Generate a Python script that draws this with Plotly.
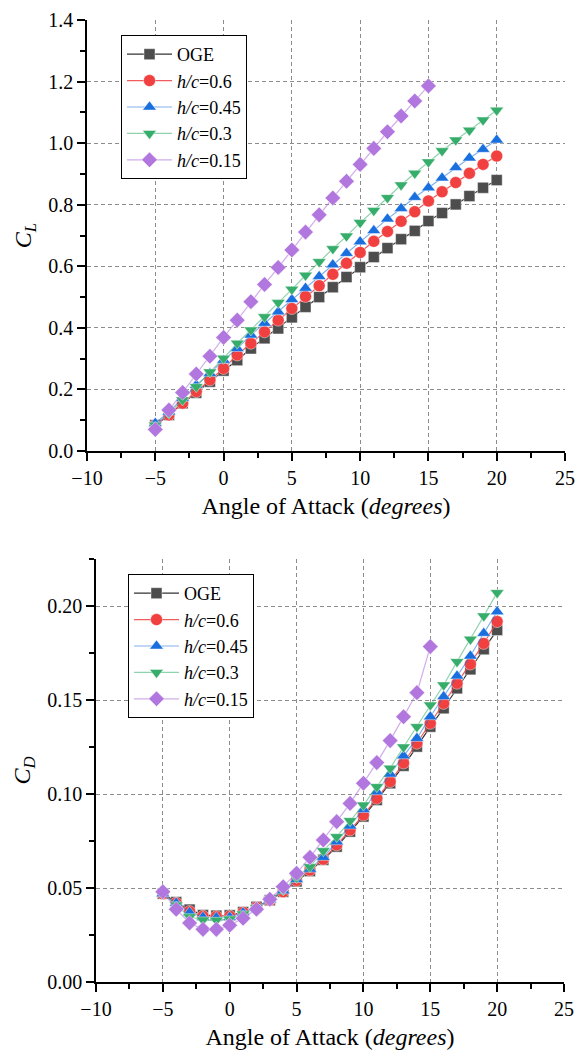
import plotly.graph_objects as go

# ---------------- data ----------------
aoa = list(range(-5, 21))
aoa_015 = list(range(-5, 16))

series_names = ["OGE", "<i>h/c</i>=0.6", "<i>h/c</i>=0.45", "<i>h/c</i>=0.3", "<i>h/c</i>=0.15"]

cl_oge = [0.084, 0.117, 0.155, 0.189, 0.225, 0.261, 0.295, 0.333, 0.366, 0.398, 0.434, 0.468, 0.500,
          0.532, 0.565, 0.597, 0.630, 0.659, 0.688, 0.715, 0.747, 0.773, 0.801, 0.828, 0.855, 0.880]
cl_h06 = [0.084, 0.117, 0.155, 0.193, 0.231, 0.268, 0.312, 0.350, 0.387, 0.425, 0.463, 0.502, 0.537,
          0.574, 0.610, 0.645, 0.681, 0.713, 0.746, 0.777, 0.812, 0.842, 0.872, 0.902, 0.931, 0.958]
cl_h045 = [0.090, 0.127, 0.171, 0.214, 0.252, 0.295, 0.333, 0.377, 0.415, 0.452, 0.492, 0.529, 0.567,
           0.605, 0.642, 0.680, 0.716, 0.754, 0.788, 0.824, 0.855, 0.887, 0.921, 0.952, 0.980, 1.010]
cl_h03 = [0.084, 0.122, 0.166, 0.209, 0.257, 0.301, 0.350, 0.393, 0.436, 0.482, 0.525, 0.571, 0.615,
          0.657, 0.698, 0.742, 0.781, 0.823, 0.864, 0.902, 0.939, 0.975, 1.010, 1.042, 1.075, 1.107]
cl_h015 = [0.070, 0.133, 0.190, 0.250, 0.308, 0.369, 0.425, 0.485, 0.541, 0.596, 0.653, 0.711, 0.767,
           0.822, 0.876, 0.931, 0.983, 1.037, 1.088, 1.137, 1.186]

cd_oge = [0.0470, 0.0425, 0.0385, 0.0356, 0.0353, 0.0355, 0.0372, 0.0400, 0.0435, 0.0480, 0.0535, 0.0590, 0.0650,
          0.0720, 0.0800, 0.0880, 0.0968, 0.1057, 0.1150, 0.1252, 0.1358, 0.1456, 0.1562, 0.1663, 0.1770, 0.1872]
cd_h06 = [0.0470, 0.0420, 0.0375, 0.0350, 0.0348, 0.0350, 0.0370, 0.0398, 0.0435, 0.0480, 0.0540, 0.0595, 0.0653,
          0.0729, 0.0809, 0.0888, 0.0977, 0.1066, 0.1165, 0.1270, 0.1376, 0.1482, 0.1589, 0.1691, 0.1801, 0.1917]
cd_h045 = [0.0470, 0.0420, 0.0370, 0.0345, 0.0343, 0.0345, 0.0368, 0.0398, 0.0437, 0.0485, 0.0545, 0.0600, 0.0663,
           0.0746, 0.0830, 0.0918, 0.1012, 0.1106, 0.1203, 0.1296, 0.1411, 0.1518, 0.1628, 0.1734, 0.1855, 0.1970]
cd_h03 = [0.0470, 0.0410, 0.0347, 0.0330, 0.0328, 0.0335, 0.0362, 0.0395, 0.0437, 0.0490, 0.0555, 0.0613, 0.0698,
          0.0773, 0.0858, 0.0941, 0.1039, 0.1137, 0.1250, 0.1358, 0.1473, 0.1580, 0.1704, 0.1823, 0.1947, 0.2071]
cd_h015 = [0.0480, 0.0387, 0.0314, 0.0280, 0.0280, 0.0302, 0.0339, 0.0387, 0.0440, 0.0507, 0.0578, 0.0663, 0.0755,
           0.0853, 0.0950, 0.1057, 0.1167, 0.1284, 0.1411, 0.1539, 0.1784]

x_grid = [-5, 0, 5, 10, 15, 20]
cl_grid = [0.2, 0.4, 0.6, 0.8, 1.0, 1.2]
cd_grid = [0.05, 0.10, 0.15, 0.20]

# ---------------- style ----------------
marker_colors = ["#4d4d4d", "#f14040", "#1a6fdf", "#37ad6b", "#b177de"]
line_colors = ["#333333", "rgba(241,64,64,0.85)", "rgba(26,111,223,0.55)",
               "rgba(55,173,107,0.55)", "rgba(177,119,222,0.6)"]
symbols = ["square", "circle", "triangle-up", "triangle-down", "diamond"]
msizes = [11, 12, 12, 12, 12]
FONT = "'Liberation Serif', Tinos, 'Times New Roman', 'DejaVu Serif', serif"

cl_sets = [(aoa, cl_oge), (aoa, cl_h06), (aoa, cl_h045), (aoa, cl_h03), (aoa_015, cl_h015)]
cd_sets = [(aoa, cd_oge), (aoa, cd_h06), (aoa, cd_h045), (aoa, cd_h03), (aoa_015, cd_h015)]

fig = go.Figure()

for i, (xs, ys) in enumerate(cl_sets):
    fig.add_trace(go.Scatter(
        x=xs, y=ys, mode="lines+markers", name=series_names[i],
        xaxis="x", yaxis="y", legend="legend",
        line=dict(color=line_colors[i], width=1.2),
        marker=dict(symbol=symbols[i], size=msizes[i], color=marker_colors[i],
                    line=dict(color="rgba(255,255,255,0.55)", width=0.8)),
    ))

for i, (xs, ys) in enumerate(cd_sets):
    fig.add_trace(go.Scatter(
        x=xs, y=ys, mode="lines+markers", name=series_names[i],
        xaxis="x2", yaxis="y2", legend="legend2",
        line=dict(color=line_colors[i], width=1.2),
        marker=dict(symbol=symbols[i], size=msizes[i], color=marker_colors[i],
                    line=dict(color="rgba(255,255,255,0.55)", width=0.8)),
    ))

# empty traces so the grid overlay subplots exist
fig.add_trace(go.Scatter(x=[None], y=[None], xaxis="x3", yaxis="y3", showlegend=False, hoverinfo="skip"))
fig.add_trace(go.Scatter(x=[None], y=[None], xaxis="x4", yaxis="y4", showlegend=False, hoverinfo="skip"))

top_x = [87 / 581, 565 / 581]
top_y = [1 - 451 / 1057, 1 - 20 / 1057]
bot_x = [96 / 581, 564 / 581]
bot_y = [1 - 982 / 1057, 1 - 559 / 1057]

tickfont = dict(family=FONT, size=20, color="black")
titlefont = dict(family=FONT, size=24, color="black")

def main_axis(domain, rng, dtick, minor_dtick, fmt, anchor, title, standoff):
    return dict(
        domain=domain, range=rng, dtick=dtick, tick0=0, tickformat=fmt, anchor=anchor,
        showline=True, linecolor="black", linewidth=1.5,
        ticks="outside", ticklen=8, tickwidth=1.5, tickcolor="black",
        minor=dict(ticks="outside", ticklen=5, tickwidth=1.5, tickcolor="black",
                   dtick=minor_dtick, showgrid=False),
        showgrid=False, zeroline=False, tickfont=tickfont, automargin=False,
        title=dict(text=title, font=titlefont, standoff=standoff),
    )

def grid_axis(domain, rng, vals, anchor, overlay):
    return dict(
        domain=domain, range=rng, tickvals=vals, showticklabels=False, ticks="",
        showgrid=True, gridcolor="#8c8c8c", gridwidth=1, griddash="4px,3px",
        showline=False, zeroline=False, anchor=anchor, overlaying=overlay, automargin=False,
    )

x_title = "Angle of Attack (<i>degrees</i>)"

fig.update_layout(
    width=581, height=1057,
    margin=dict(l=0, r=0, t=0, b=0),
    paper_bgcolor="white", plot_bgcolor="white",
    font=dict(family=FONT, color="black"),
    xaxis=main_axis(top_x, [-10, 25], 5, 2.5, "d", "y", x_title, 9),
    yaxis=main_axis(top_y, [0, 1.4], 0.2, 0.1, ".1f", "x", "<i>C<sub>L</sub></i>", 10),
    xaxis2=main_axis(bot_x, [-10, 25], 5, 2.5, "d", "y2", x_title, 9),
    yaxis2=main_axis(bot_y, [0, 0.225], 0.05, 0.025, ".2f", "x2", "<i>C<sub>D</sub></i>", 10),
    xaxis3=grid_axis(top_x, [-10, 25], x_grid, "y3", "x"),
    yaxis3=grid_axis(top_y, [0, 1.4], cl_grid, "x3", "y"),
    xaxis4=grid_axis(bot_x, [-10, 25], x_grid, "y4", "x2"),
    yaxis4=grid_axis(bot_y, [0, 0.225], cd_grid, "x4", "y2"),
    legend=dict(x=121 / 581, y=1 - 35 / 1057, xanchor="left", yanchor="top",
                bgcolor="white", bordercolor="black", borderwidth=1,
                font=dict(family=FONT, size=18, color="black"), itemwidth=45,
                tracegroupgap=0),
    legend2=dict(x=128 / 581, y=1 - 574 / 1057, xanchor="left", yanchor="top",
                 bgcolor="white", bordercolor="black", borderwidth=1,
                 font=dict(family=FONT, size=18, color="black"), itemwidth=45,
                 tracegroupgap=0),
    showlegend=True,
)

fig.write_html("out.html")
